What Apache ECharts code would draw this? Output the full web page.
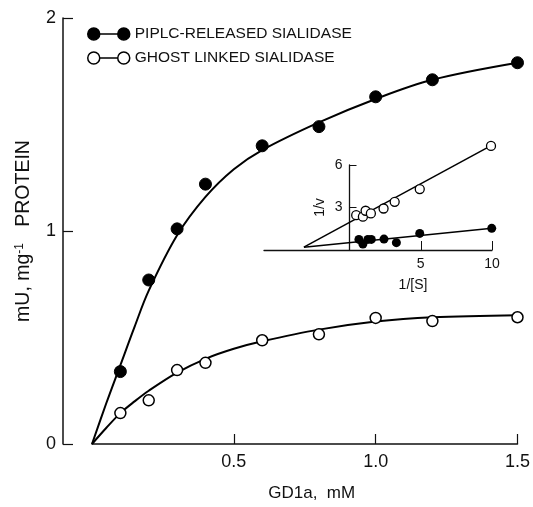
<!DOCTYPE html>
<html>
<head>
<meta charset="utf-8">
<script src="https://cdn.jsdelivr.net/npm/echarts@6/dist/echarts.min.js"></script>
<style>
html,body{margin:0;padding:0;background:#fff;}
#c{width:533px;height:507px;}
</style>
</head>
<body>
<div id="c"></div>
<script>
// Main plot data (GD1a, mM vs mU/mg protein)
const concX = [0.1, 0.2, 0.3, 0.4, 0.6, 0.8, 1.0, 1.2, 1.5];
const piplcValues = [0.34, 0.77, 1.01, 1.22, 1.40, 1.49, 1.63, 1.71, 1.79];
const ghostValues = [0.145, 0.205, 0.347, 0.381, 0.487, 0.515, 0.592, 0.577, 0.595];
// Fitted curves
const curveX = [0, 0.05, 0.1, 0.15, 0.2, 0.3, 0.4, 0.5, 0.6, 0.8, 1.0, 1.2, 1.5];
const piplcCurve = [0, 0.19, 0.37, 0.55, 0.72, 0.98, 1.16, 1.29, 1.38, 1.51, 1.62, 1.71, 1.79];
const ghostCurve = [0, 0.075, 0.145, 0.2, 0.25, 0.335, 0.40, 0.447, 0.482, 0.537, 0.575, 0.595, 0.605];
const mainXTicks = [0.5, 1.0, 1.5];
const mainYTicks = [0, 1, 2];
// Inset (double reciprocal) data
const insetGhostX = [0.47, 0.94, 1.13, 1.5, 2.39, 3.17, 4.93, 9.93];
const insetGhostY = [2.46, 2.35, 2.77, 2.58, 2.93, 3.40, 4.30, 7.35];
const insetPiplcX = [0.66, 0.94, 1.29, 1.53, 2.42, 3.29, 4.93, 9.98];
const insetPiplcY = [0.75, 0.42, 0.75, 0.75, 0.77, 0.52, 1.17, 1.53];
const insetGhostLineX = [-3.2, 10];
const insetGhostLineY = [0.2, 7.4];
const insetPiplcLineX = [-3.2, 10];
const insetPiplcLineY = [0.2, 1.53];
const insetXTicks = [5, 10];
const insetYTicks = [3, 6];
const insetXMin = -6, insetXMax = 10;

const seriesNames = ['PIPLC-RELEASED SIALIDASE', 'GHOST LINKED SIALIDASE'];

const zip = (xs, ys) => xs.map((x, i) => [x, ys[i]]);

const legendIcon = 'path://M0,6a6,6 0 1,0 12,0a6,6 0 1,0 -12,0zM12,6L30,6M30,6a6,6 0 1,0 12,0a6,6 0 1,0 -12,0z';

const chart = echarts.init(document.getElementById('c'), null, {renderer: 'canvas'});
const FONT = 'Liberation Sans';
const insetLeft = 264, insetWidth = 228;
// place inset y axis at x = 0 of the inset x scale
const insetYOffset = -insetWidth * (0 - insetXMin) / (insetXMax - insetXMin);

const option = {
  animation: false,
  backgroundColor: '#fff',
  textStyle: {fontFamily: FONT, color: '#111'},
  legend: {
    orient: 'vertical',
    left: 82,
    top: 21,
    itemWidth: 42,
    itemHeight: 12,
    itemGap: 8,
    textStyle: {fontSize: 15.5, color: '#111', fontFamily: FONT},
    data: [
      {name: seriesNames[0], icon: legendIcon, itemStyle: {color: '#000', borderColor: '#000', borderWidth: 1.5}},
      {name: seriesNames[1], icon: legendIcon, itemStyle: {color: '#fff', borderColor: '#000', borderWidth: 1.5}}
    ]
  },
  grid: [
    {left: 92, right: 14, top: 18, bottom: 59},
    {left: insetLeft, width: insetWidth, top: 165, bottom: 257}
  ],
  xAxis: [
    {
      gridIndex: 0, type: 'value', min: 0, max: 1.5,
      name: 'GD1a,  mM', nameLocation: 'middle', nameGap: 41,
      nameTextStyle: {fontSize: 17, color: '#111', padding: [0, 0, 0, 14]},
      axisLine: {lineStyle: {color: '#111', width: 1.5}},
      axisTick: {inside: true, length: 10, customValues: mainXTicks, lineStyle: {color: '#111', width: 1.2}},
      axisLabel: {customValues: mainXTicks, fontSize: 18, color: '#111', margin: 9, formatter: v => v.toFixed(1)},
      splitLine: {show: false}
    },
    {
      gridIndex: 1, type: 'value', min: insetXMin, max: insetXMax,
      name: '1/[S]', nameLocation: 'middle', nameGap: 28,
      nameTextStyle: {fontSize: 14, color: '#111', padding: [0, 0, 0, 70]},
      axisLine: {lineStyle: {color: '#111', width: 1.3}},
      axisTick: {inside: true, length: 9, customValues: insetXTicks, lineStyle: {color: '#111'}},
      axisLabel: {customValues: insetXTicks, fontSize: 14, color: '#111', margin: 7},
      splitLine: {show: false}
    }
  ],
  yAxis: [
    {
      gridIndex: 0, type: 'value', min: 0, max: 2, interval: 1, offset: 29,
      name: 'mU, mg{s|-1}   PROTEIN', nameLocation: 'middle', nameGap: 29,
      nameTextStyle: {fontSize: 19.5, color: '#111', rich: {s: {fontSize: 12, verticalAlign: 'top', lineHeight: 14, padding: [0, 0, 8, 0]}}},
      axisLine: {onZero: false, lineStyle: {color: '#111', width: 1.5}},
      axisTick: {inside: true, length: 10, customValues: mainYTicks, lineStyle: {color: '#111', width: 1.2}},
      axisLabel: {customValues: mainYTicks, fontSize: 18, color: '#111', margin: 7},
      splitLine: {show: false}
    },
    {
      gridIndex: 1, type: 'value', min: 0, max: 6, offset: insetYOffset,
      name: '1/v', nameLocation: 'middle', nameGap: 22,
      nameTextStyle: {fontSize: 14, color: '#111'},
      axisLine: {onZero: false, lineStyle: {color: '#111', width: 1.3}},
      axisTick: {inside: true, length: 7, customValues: insetYTicks, lineStyle: {color: '#111'}},
      axisLabel: {customValues: insetYTicks, fontSize: 14, color: '#111', margin: 7},
      splitLine: {show: false}
    }
  ],
  series: [
    {
      type: 'line', xAxisIndex: 0, yAxisIndex: 0, data: zip(curveX, piplcCurve),
      smooth: 0.35, showSymbol: false, symbol: 'none', silent: true,
      lineStyle: {color: '#000', width: 2}, z: 2
    },
    {
      type: 'line', xAxisIndex: 0, yAxisIndex: 0, data: zip(curveX, ghostCurve),
      smooth: 0.35, showSymbol: false, symbol: 'none', silent: true,
      lineStyle: {color: '#000', width: 2}, z: 2
    },
    {
      name: seriesNames[0], type: 'scatter', xAxisIndex: 0, yAxisIndex: 0,
      data: zip(concX, piplcValues), symbol: 'circle', symbolSize: 12,
      itemStyle: {color: '#000', borderColor: '#000', borderWidth: 1, opacity: 1}, z: 5
    },
    {
      name: seriesNames[1], type: 'scatter', xAxisIndex: 0, yAxisIndex: 0,
      data: zip(concX, ghostValues), symbol: 'circle', symbolSize: 11,
      itemStyle: {color: '#fff', borderColor: '#000', borderWidth: 1.5, opacity: 1}, z: 5
    },
    {
      type: 'line', xAxisIndex: 1, yAxisIndex: 1, data: zip(insetGhostLineX, insetGhostLineY),
      showSymbol: false, symbol: 'none', clip: false, silent: true,
      lineStyle: {color: '#000', width: 1.5}, z: 2
    },
    {
      type: 'line', xAxisIndex: 1, yAxisIndex: 1, data: zip(insetPiplcLineX, insetPiplcLineY),
      showSymbol: false, symbol: 'none', clip: false, silent: true,
      lineStyle: {color: '#000', width: 1.5}, z: 2
    },
    {
      type: 'scatter', xAxisIndex: 1, yAxisIndex: 1, data: zip(insetGhostX, insetGhostY),
      symbol: 'circle', symbolSize: 9, clip: false,
      itemStyle: {color: '#fff', borderColor: '#000', borderWidth: 1.3, opacity: 1}, z: 5
    },
    {
      type: 'scatter', xAxisIndex: 1, yAxisIndex: 1, data: zip(insetPiplcX, insetPiplcY),
      symbol: 'circle', symbolSize: 9, clip: false,
      itemStyle: {color: '#000', opacity: 1}, z: 5
    }
  ]
};
chart.setOption(option);
</script>
</body>
</html>
